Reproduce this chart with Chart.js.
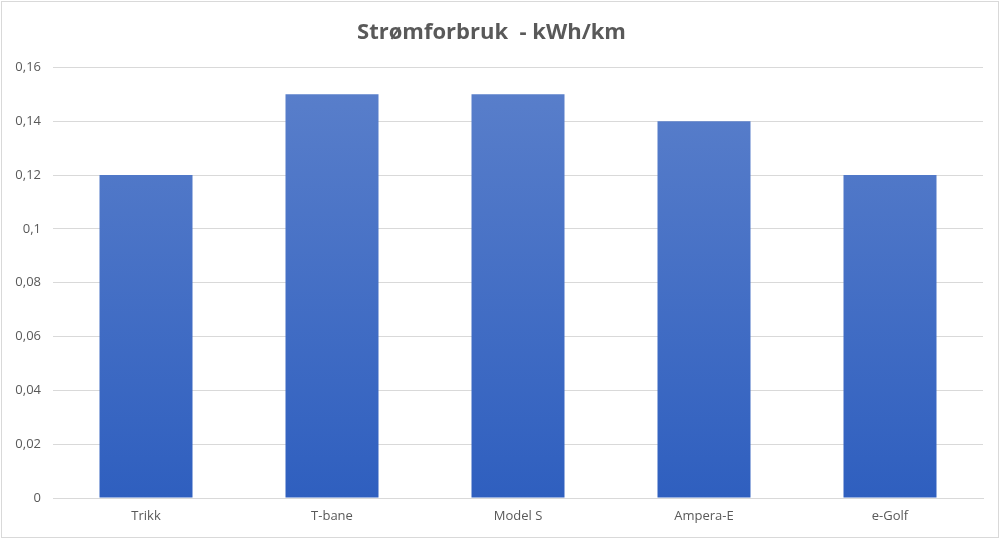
<!DOCTYPE html>
<html lang="no">
<head>
  <meta charset="UTF-8" />
  <title>Strømforbruk - kWh/km</title>
  <script src="https://cdn.jsdelivr.net/npm/chart.js"></script>
  <style>
    body { margin: 0; background: #fff; }
    canvas { display: block; }
  </style>
</head>
<body>
  <canvas id="chart" width="1000" height="539"></canvas>

  <script>
    // === Data ===
    const categories = ["Trikk", "T-bane", "Model S", "Ampera-E", "e-Golf"];
    const values = [0.12, 0.15, 0.15, 0.14, 0.12];
    const yTicks = [0, 0.02, 0.04, 0.06, 0.08, 0.1, 0.12, 0.14, 0.16];

    // === Gradient fill for bars ===
    function barGradient(context) {
      const chart = context.chart;
      const area = chart.chartArea;
      if (!area) return "#4472c4";
      const g = chart.ctx.createLinearGradient(0, area.top, 0, area.bottom);
      g.addColorStop(0, "#5b80cb");
      g.addColorStop(1, "#2f5fbf");
      return g;
    }

    // === Background + frame ===
    const frame = {
      id: "frame",
      beforeDraw(chart) {
        const c = chart.ctx;
        c.save();
        c.fillStyle = "#fff";
        c.fillRect(0, 0, chart.width, chart.height);
        c.strokeStyle = "#d9d9d9";
        c.lineWidth = 1;
        c.strokeRect(1.5, 1.5, chart.width - 3, chart.height - 3);
        c.restore();
      }
    };

    const ctx = document.getElementById("chart").getContext("2d");
    new Chart(ctx, {
      type: "bar",
      data: {
        labels: categories,
        datasets: [{
          data: values,
          backgroundColor: barGradient,
          borderWidth: 0,
          categoryPercentage: 1,
          barPercentage: 0.5
        }]
      },
      options: {
        responsive: false,
        animation: false,
        layout: { padding: { left: 0, right: 17, top: 0, bottom: 0 } },
        plugins: {
          legend: { display: false },
          tooltip: { enabled: false },
          title: {
            display: true,
            text: "Strømforbruk  - kWh/km",
            color: "#595959",
            font: { family: "Open Sans", size: 22, weight: "bold" },
            padding: { top: 20, bottom: 21 }
          }
        },
        scales: {
          x: {
            grid: { display: false, drawTicks: false },
            border: { color: "#d9d9d9" },
            ticks: {
              color: "#595959",
              font: { family: "Open Sans", size: 13 },
              padding: 10
            },
            afterFit(scale) { scale.height = 41; }
          },
          y: {
            min: 0,
            max: 0.16,
            afterBuildTicks(scale) {
              scale.ticks = yTicks.map(v => ({ value: v }));
            },
            grid: { color: "#d9d9d9", drawTicks: false },
            border: { display: false },
            ticks: {
              color: "#595959",
              font: { family: "Open Sans", size: 13 },
              padding: 12,
              callback: v => String(v).replace(".", ",")
            },
            afterFit(scale) { scale.width = 53; }
          }
        }
      },
      plugins: [frame]
    });
  </script>
</body>
</html>
